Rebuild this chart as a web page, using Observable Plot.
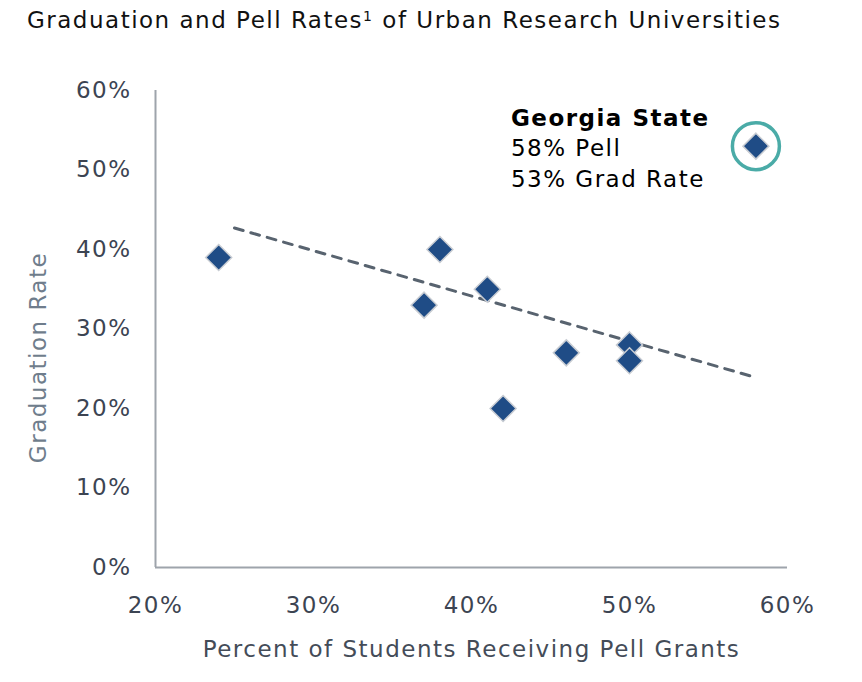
<!DOCTYPE html>
<html>
<head>
<meta charset="utf-8">
<script src="https://cdn.jsdelivr.net/npm/d3@7"></script>
<script src="https://cdn.jsdelivr.net/npm/@observablehq/plot@0.6"></script>
<style>
  html, body { margin: 0; padding: 0; background: #fff; }
  body { width: 862px; height: 682px; overflow: hidden; font-family: "DejaVu Sans", sans-serif; }
  #title { height: 50px; line-height: 40px; padding-left: 27px; font-size: 23px; letter-spacing: 1.5px; color: #111; white-space: nowrap; }
  #title sup { font-size: 14px; vertical-align: 7px; line-height: 0; }
  #chart svg text { letter-spacing: 1.5px; }
</style>
</head>
<body>
<div id="title">Graduation and Pell Rates<sup>1</sup> of Urban Research Universities</div>
<div id="chart"></div>
<script>
// Peer universities: percent receiving Pell grants, graduation rate
const pellPct = [24, 37, 38, 41, 42, 46, 50, 50];
const gradPct = [39, 33, 40, 35, 20, 27, 28, 26];
// Highlighted university
const gsName = "Georgia State";
const gsPell = 58;
const gsGrad = 53;
// Dashed trend line end points
const trendPell = [25, 58];
const trendGrad = [42.7, 23.9];
// Axis ticks
const xTicks = [20, 30, 40, 50, 60];
const yTicks = [0, 10, 20, 30, 40, 50, 60];
const xLabel = "Percent of Students Receiving Pell Grants";
const yLabel = "Graduation Rate";

const points = pellPct.map((p, i) => ({pell: p, grad: gradPct[i]}));
const trend = trendPell.map((p, i) => ({pell: p, grad: trendGrad[i]}));
const gs = [{pell: gsPell, grad: gsGrad}];

const fmt = d => d + "%";

const chart = Plot.plot({
  width: 862,
  height: 632,
  marginTop: 40,
  marginBottom: 115,
  marginLeft: 155,
  marginRight: 75,
  style: {fontFamily: "DejaVu Sans, sans-serif", fontSize: "23px", color: "#3c4452", background: "#fff", overflow: "visible"},
  x: {domain: [20, 60]},
  y: {domain: [0, 60]},
  marks: [
    Plot.axisX(xTicks, {tickSize: 0, tickPadding: 29, tickFormat: fmt, fontSize: 23, label: null}),
    Plot.axisY(yTicks, {tickSize: 0, tickPadding: 24, tickFormat: fmt, fontSize: 23, label: null}),
    Plot.ruleX([20], {stroke: "#9ea4ab", strokeWidth: 2}),
    Plot.ruleY([0], {stroke: "#9ea4ab", strokeWidth: 2}),
    Plot.text([xLabel], {frameAnchor: "bottom", textAnchor: "middle", lineAnchor: "middle", dy: 82, fontSize: 23, fill: "#444c58"}),
    Plot.text([yLabel], {frameAnchor: "left", textAnchor: "middle", lineAnchor: "middle", dx: -117, dy: 28.5, rotate: -90, fontSize: 23, fill: "#6f7d8c"}),
    Plot.line(trend, {x: "pell", y: "grad", stroke: "#58636f", strokeWidth: 3, strokeDasharray: "9,8"}),
    Plot.dot(points, {x: "pell", y: "grad", symbol: "diamond2", r: 11.7, fill: "#1f4c86", stroke: "#c9cdd3", strokeWidth: 1.5}),
    Plot.dot(gs, {x: "pell", y: "grad", symbol: "diamond2", r: 11.7, fill: "#1f4c86", stroke: "#c9cdd3", strokeWidth: 1.5}),
    Plot.dot(gs, {x: "pell", y: "grad", r: 23.5, fill: "none", stroke: "#4aaba7", strokeWidth: 3.5}),
    Plot.text(gs, {x: "pell", y: "grad", text: () => gsName, textAnchor: "start", dx: -245, dy: -28, fontSize: 23, fontWeight: "bold", fill: "#000"}),
    Plot.text(gs, {x: "pell", y: "grad", text: d => `${d.pell}% Pell\n${d.grad}% Grad Rate`, textAnchor: "start", dx: -245, dy: 15.5, lineHeight: 1.35, fontSize: 23, fill: "#000"})
  ]
});
document.getElementById("chart").appendChild(chart);
</script>
</body>
</html>
